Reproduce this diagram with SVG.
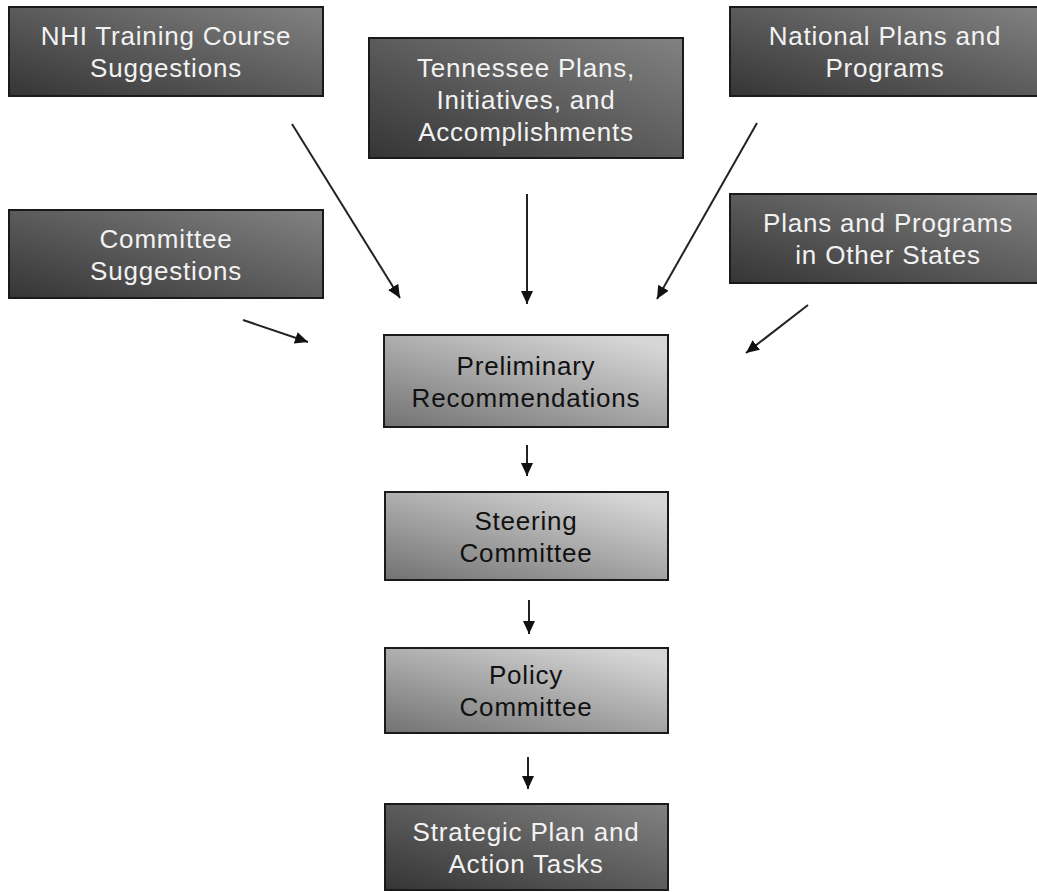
<svg xmlns="http://www.w3.org/2000/svg" width="1037" height="892" viewBox="0 0 1037 892">
<style>
.box{stroke:#1a1a1a;stroke-width:2}
.dark{fill:url(#gDark)}
.light{fill:url(#gLight)}
text{font-family:"Liberation Sans",Arial,sans-serif;font-size:26px;letter-spacing:0.8px;text-anchor:middle}
.tl{fill:#f2f2f2}
.td{fill:#111}
.conn line{stroke:#222;stroke-width:2;marker-end:url(#arr)}
</style>
<defs>
<linearGradient id="gDark" x1="0" y1="1" x2="1" y2="0">
<stop offset="0" stop-color="#353535"/>
<stop offset="1" stop-color="#828282"/>
</linearGradient>
<linearGradient id="gLight" x1="0" y1="1" x2="0.8" y2="0">
<stop offset="0" stop-color="#727272"/>
<stop offset="1" stop-color="#d6d6d6"/>
</linearGradient>
<marker id="arr" markerUnits="userSpaceOnUse" markerWidth="14" markerHeight="14" viewBox="0 0 14 14" refX="13" refY="7" orient="auto">
<path d="M0,1 L13,7 L0,13 Z" fill="#111"/>
</marker>
</defs>
<rect width="1037" height="892" fill="#fff"/>

<g id="nhi">
<rect class="box dark" x="9" y="7" width="314" height="89"/>
<text class="tl" x="166" y="45">NHI Training Course</text>
<text class="tl" x="166" y="77">Suggestions</text>
</g>
<g id="tennessee">
<rect class="box dark" x="369" y="38" width="314" height="120"/>
<text class="tl" x="526" y="76.5">Tennessee Plans,</text>
<text class="tl" x="526" y="108.5">Initiatives, and</text>
<text class="tl" x="526" y="140.5">Accomplishments</text>
</g>
<g id="national">
<rect class="box dark" x="730" y="7" width="312" height="89"/>
<text class="tl" x="885" y="45">National Plans and</text>
<text class="tl" x="885" y="77">Programs</text>
</g>
<g id="committee">
<rect class="box dark" x="9" y="210" width="314" height="88"/>
<text class="tl" x="166" y="247.5">Committee</text>
<text class="tl" x="166" y="279.5">Suggestions</text>
</g>
<g id="otherstates">
<rect class="box dark" x="730" y="194" width="312" height="89"/>
<text class="tl" x="888" y="232">Plans and Programs</text>
<text class="tl" x="888" y="264">in Other States</text>
</g>
<g id="preliminary">
<rect class="box light" x="384" y="335" width="284" height="92"/>
<text class="td" x="526" y="374.5">Preliminary</text>
<text class="td" x="526" y="406.5">Recommendations</text>
</g>
<g id="steering">
<rect class="box light" x="385" y="492" width="283" height="88"/>
<text class="td" x="526" y="529.5">Steering</text>
<text class="td" x="526" y="561.5">Committee</text>
</g>
<g id="policy">
<rect class="box light" x="385" y="648" width="283" height="85"/>
<text class="td" x="526" y="684">Policy</text>
<text class="td" x="526" y="716">Committee</text>
</g>
<g id="strategic">
<rect class="box dark" x="385" y="804" width="283" height="86"/>
<text class="tl" x="526" y="840.5">Strategic Plan and</text>
<text class="tl" x="526" y="872.5">Action Tasks</text>
</g>

<g id="connectors" class="conn">
<line x1="292" y1="124" x2="400" y2="298"/>
<line x1="527" y1="194" x2="527" y2="304"/>
<line x1="757" y1="123" x2="657" y2="299"/>
<line x1="243" y1="320" x2="308" y2="342"/>
<line x1="808" y1="305" x2="746" y2="353"/>
<line x1="527" y1="445" x2="527" y2="476"/>
<line x1="529" y1="600" x2="529" y2="634"/>
<line x1="528" y1="757" x2="528" y2="789"/>
</g>
</svg>
